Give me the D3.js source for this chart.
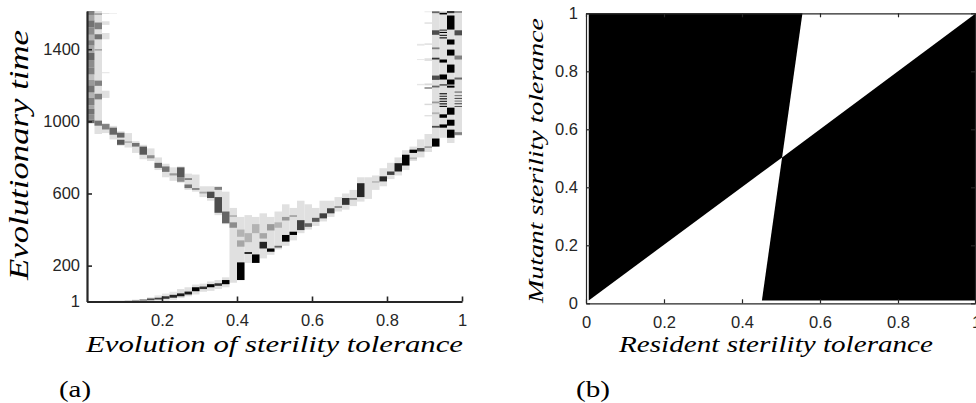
<!DOCTYPE html>
<html>
<head>
<meta charset="utf-8">
<script src="https://cdn.jsdelivr.net/npm/d3@7"></script>
<style>
  body { margin: 0; background: #fff; }
  svg { display: block; }
</style>
</head>
<body>
<div id="chart-area"></div>
<script>

  // ---- data: panel (a), histogram of sterility tolerance over evolutionary time
  const tolBinWidth = 0.02;
  const timeMax = 1612;
  const timeTicks = [1, 200, 600, 1000, 1400];
  const tolTicksA = [0.2, 0.4, 0.6, 0.8, 1];

  // [bin index, time from, time to, density 0..1]
  const histCells = [
    // branch drifting to 0
    [0, 990, 1010, 0.6], [0, 1010, 1040, 0.45], [0, 1040, 1070, 0.55], [0, 1070, 1090, 0.35],
    [0, 1090, 1130, 0.5], [0, 1130, 1160, 0.3], [0, 1160, 1200, 0.55], [0, 1200, 1230, 0.4],
    [0, 1230, 1260, 0.25], [0, 1260, 1300, 0.5], [0, 1300, 1340, 0.45], [0, 1340, 1380, 0.6],
    [0, 1380, 1420, 0.35], [0, 1420, 1450, 0.5], [0, 1450, 1480, 0.3], [0, 1480, 1520, 0.45],
    [0, 1520, 1560, 0.55], [0, 1560, 1590, 0.35], [0, 1590, 1612, 0.5],
    [1, 930, 1612, 0.12], [1, 1511, 1548, 0.5], [1, 1455, 1483, 0.55], [1, 1393, 1400, 0.4],
    [1, 1197, 1226, 0.5], [1, 1122, 1153, 0.5], [1, 976, 1004, 0.55], [1, 1590, 1600, 0.35],
    [2, 1535, 1555, 0.12], [2, 1455, 1490, 0.12], [2, 1130, 1170, 0.12], [2, 1596, 1601, 0.12],
    [2, 1267, 1272, 0.12], [2, 935, 990, 0.12], [2, 955, 985, 0.5],
    [3, 1596, 1600, 0.08], [3, 900, 975, 0.12], [3, 926, 965, 0.6],
    [4, 865, 945, 0.12], [4, 910, 937, 0.6], [4, 870, 898, 0.65],
    [5, 855, 935, 0.12], [5, 880, 890, 0.3],
    [6, 825, 890, 0.12], [6, 860, 880, 0.55],
    [7, 790, 870, 0.12], [7, 815, 860, 0.65],
    [8, 780, 850, 0.12], [8, 795, 812, 0.45],
    [9, 730, 800, 0.12], [9, 742, 770, 0.6],
    [10, 690, 765, 0.12], [10, 720, 750, 0.55],
    [11, 670, 745, 0.12], [11, 700, 712, 0.4],
    [12, 660, 750, 0.12], [12, 690, 745, 0.65], [12, 665, 690, 0.45],
    [13, 620, 710, 0.12], [13, 675, 685, 0.5], [13, 630, 650, 0.55],
    [14, 610, 705, 0.12], [14, 620, 630, 0.5],
    [15, 580, 640, 0.12], [15, 600, 610, 0.35],
    [16, 560, 640, 0.12], [16, 575, 610, 0.7],
    [17, 480, 640, 0.12], [17, 620, 636, 0.5], [17, 493, 580, 0.7],
    [18, 430, 610, 0.12], [18, 435, 500, 0.6],
    // early rise and branching zone
    [3, 1, 6, 0.15], [4, 1, 6, 0.15], [5, 1, 8, 0.2], [6, 3, 10, 0.35], [7, 5, 13, 0.5],
    [8, 1, 25, 0.1], [9, 5, 35, 0.1], [10, 5, 45, 0.1], [11, 10, 55, 0.1],
    [12, 20, 70, 0.12], [13, 30, 80, 0.12], [14, 40, 95, 0.12], [15, 55, 100, 0.12],
    [16, 60, 112, 0.12], [17, 70, 120, 0.12], [18, 80, 135, 0.12],
    [8, 8, 18, 0.7], [9, 12, 22, 0.75], [10, 16, 30, 0.8], [11, 22, 38, 0.85], [12, 30, 46, 0.9],
    [13, 40, 56, 0.9], [14, 58, 80, 1], [15, 70, 84, 0.8], [16, 80, 97, 1], [17, 88, 102, 0.8],
    [18, 97, 120, 1],
    [19, 105, 520, 0.12], [19, 410, 440, 0.45], [19, 470, 480, 0.3],
    [20, 120, 470, 0.12], [20, 305, 340, 0.35], [20, 360, 400, 0.3], [20, 120, 218, 1],
    [21, 215, 480, 0.12], [21, 330, 380, 0.3], [21, 265, 275, 0.9],
    [22, 215, 470, 0.12], [22, 380, 430, 0.3], [22, 215, 262, 1],
    [23, 240, 490, 0.12], [23, 350, 380, 0.35], [23, 295, 332, 0.85],
    [24, 260, 470, 0.12], [24, 395, 430, 0.4], [24, 277, 295, 1],
    [25, 290, 500, 0.12], [25, 410, 440, 0.3], [25, 300, 310, 0.6],
    [26, 310, 540, 0.12], [26, 333, 370, 1], [26, 450, 470, 0.4],
    [27, 340, 520, 0.12], [27, 370, 388, 1], [27, 470, 480, 0.35],
    // branch rising to 1
    [28, 380, 560, 0.12], [28, 397, 452, 0.75],
    [29, 400, 540, 0.12], [29, 415, 435, 0.6],
    [30, 420, 520, 0.12], [30, 443, 465, 0.65],
    [31, 445, 560, 0.12], [31, 462, 490, 0.75],
    [32, 470, 560, 0.12], [32, 490, 518, 0.75],
    [33, 500, 580, 0.12], [33, 520, 530, 0.45],
    [34, 510, 600, 0.12], [34, 537, 575, 0.8],
    [35, 530, 620, 0.12], [35, 565, 575, 0.5],
    [36, 555, 690, 0.12], [36, 580, 657, 0.85],
    [37, 570, 690, 0.12],
    [38, 620, 700, 0.12], [38, 660, 668, 0.3],
    [39, 640, 740, 0.12], [39, 667, 695, 0.85],
    [40, 680, 770, 0.12], [40, 703, 722, 0.75],
    [41, 700, 800, 0.12], [41, 722, 768, 0.9],
    [42, 730, 840, 0.12], [42, 755, 815, 1],
    [43, 780, 860, 0.12], [43, 825, 843, 1], [43, 790, 800, 0.3],
    [44, 800, 900, 0.12], [44, 833, 852, 0.7],
    [44, 1420, 1430, 0.1], [44, 1340, 1345, 0.1], [44, 1200, 1208, 0.1],
    [45, 830, 930, 0.12], [45, 855, 860, 0.6],
    [45, 1425, 1432, 0.15], [45, 1200, 1210, 0.15], [45, 1090, 1098, 0.15], [45, 1028, 1034, 0.15],
    [45, 1335, 1350, 0.12], [45, 1540, 1550, 0.1], [45, 1605, 1610, 0.1], [45, 1180, 1190, 0.4],
    [46, 860, 905, 1], [46, 905, 1612, 0.12], [46, 965, 975, 0.7], [46, 1188, 1198, 0.6],
    [46, 1230, 1254, 0.7], [46, 1343, 1353, 0.8], [46, 1400, 1410, 0.5], [46, 1480, 1505, 0.7],
    [46, 1600, 1610, 0.6], [46, 1100, 1110, 0.4], [46, 1040, 1050, 0.3],
    [47, 909, 1612, 0.12], [47, 1593, 1602, 1], [47, 1460, 1466, 1], [47, 1474, 1480, 0.9],
    [47, 1490, 1496, 1], [47, 1503, 1509, 0.8], [47, 1326, 1343, 1], [47, 1232, 1260, 1],
    [47, 1199, 1205, 0.9], [47, 1080, 1086, 1], [47, 1094, 1100, 1], [47, 1108, 1114, 0.9],
    [47, 1122, 1128, 1], [47, 1136, 1142, 0.8], [47, 1150, 1156, 1], [47, 1020, 1039, 1],
    [47, 965, 983, 1],
    [48, 880, 1612, 0.12], [48, 1509, 1587, 1], [48, 1426, 1454, 1], [48, 1365, 1398, 1],
    [48, 1270, 1315, 1], [48, 1204, 1232, 1], [48, 1187, 1198, 1], [48, 1037, 1076, 1],
    [48, 976, 1009, 1], [48, 909, 954, 1], [48, 1600, 1612, 0.8],
    [49, 920, 1612, 0.12], [49, 1603, 1610, 0.6], [49, 1477, 1505, 0.7], [49, 1343, 1365, 0.5],
    [49, 1232, 1243, 0.6], [49, 1080, 1085, 0.7], [49, 1095, 1100, 0.8], [49, 1110, 1115, 0.6],
    [49, 1125, 1130, 0.8], [49, 1140, 1145, 0.6], [49, 1160, 1165, 0.7], [49, 925, 940, 0.5],
  ];

  // ---- data: panel (b), pairwise invasibility plot
  const tolTicksB = [0, 0.2, 0.4, 0.6, 0.8, 1];
  const pipExtent = [[0.007, 0.01], [1, 1]];        // resident, mutant range of the grid
  const pipBoundary = [[0.45, 0], [0.555, 1]];      // non-trivial zero contour (resident at mutant 0 and 1)

  const width = 976;
  const height = 403;
  const inkColor = '#262626';
  const tickFont = '"Liberation Sans", Arial, sans-serif';
  const mathFont = '"Liberation Serif", "Times New Roman", serif';

  const svg = d3.select('#chart-area').append('svg')
    .attr('width', width)
    .attr('height', height);

  const grey = d3.scaleLinear().domain([0, 1]).range(['#ffffff', '#000000']);

  // ================= panel (a)
  const xA = d3.scaleLinear().domain([0, 1]).range([87, 462]);
  const yA = d3.scaleLinear().domain([1, timeMax]).range([301.5, 11]);

  const panelA = svg.append('g');

  panelA.append('g').selectAll('rect')
    .data(histCells.slice().sort((a, b) => a[3] - b[3]))
    .join('rect')
      .attr('x', d => xA(d[0] * tolBinWidth))
      .attr('width', xA(tolBinWidth) - xA(0))
      .attr('y', d => yA(d[2]))
      .attr('height', d => yA(d[1]) - yA(d[2]))
      .attr('fill', d => grey(d[3]));

  const axisAX = panelA.append('g')
    .attr('transform', `translate(0, ${yA(1)})`)
    .call(d3.axisBottom(xA).tickValues(tolTicksA).tickFormat(d3.format('')).tickSizeInner(-5).tickSizeOuter(0).tickPadding(13));

  const axisAY = panelA.append('g')
    .attr('transform', `translate(${xA(0)}, 0)`)
    .call(d3.axisLeft(yA).tickValues(timeTicks).tickFormat(d3.format('d')).tickSizeInner(-5).tickSizeOuter(0).tickPadding(7));

  [axisAX, axisAY].forEach(g => {
    g.select('.domain').attr('stroke', inkColor).attr('stroke-width', 2.2);
    g.selectAll('.tick line').attr('stroke', inkColor).attr('stroke-width', 1.6);
    g.selectAll('.tick text').attr('fill', inkColor).style('font-family', tickFont).style('font-size', '16.5px');
  });

  panelA.append('text')
    .text('Evolution of sterility tolerance')
      .attr('x', 86)
      .attr('y', 352)
      .attr('textLength', 377)
      .attr('lengthAdjust', 'spacingAndGlyphs')
      .style('font-family', mathFont)
      .style('font-style', 'italic')
      .style('font-size', '23px');

  panelA.append('text')
    .text('Evolutionary time')
      .attr('transform', 'translate(28, 155)rotate(-90)')
      .attr('text-anchor', 'middle')
      .attr('textLength', 250)
      .attr('lengthAdjust', 'spacingAndGlyphs')
      .style('font-family', mathFont)
      .style('font-style', 'italic')
      .style('font-size', '27px');

  panelA.append('text')
    .text('(a)')
      .attr('x', 59)
      .attr('y', 397)
      .attr('textLength', 32)
      .attr('lengthAdjust', 'spacingAndGlyphs')
      .style('font-family', mathFont)
      .style('font-size', '23px');

  // ================= panel (b)
  const xB = d3.scaleLinear().domain([0, 1]).range([586, 976]);
  const yB = d3.scaleLinear().domain([0, 1]).range([303.3, 13.3]);

  const panelB = svg.append('g');

  const [[r0, m0], [r1, m1]] = pipExtent;
  const bAt = m => pipBoundary[0][0] + (pipBoundary[1][0] - pipBoundary[0][0]) * (m - pipBoundary[0][1]) / (pipBoundary[1][1] - pipBoundary[0][1]);
  const slope = (pipBoundary[1][0] - pipBoundary[0][0]) / (pipBoundary[1][1] - pipBoundary[0][1]);
  const cross = (pipBoundary[0][0] - slope * pipBoundary[0][1]) / (1 - slope);

  const blackRegions = [
    [[r0, Math.max(r0, m0)], [r0, m1], [bAt(m1), m1], [cross, cross]],
    [[bAt(m0), m0], [r1, m0], [r1, m1], [cross, cross]],
  ];

  const line = d3.line().x(d => xB(d[0])).y(d => yB(d[1]));

  panelB.selectAll('path.region')
    .data(blackRegions)
    .join('path')
      .attr('class', 'region')
      .attr('d', d => line(d) + 'Z')
      .attr('fill', '#000');

  const axisBX = panelB.append('g')
    .attr('transform', `translate(0, ${yB(0)})`)
    .call(d3.axisBottom(xB).tickValues(tolTicksB).tickFormat(d3.format('')).tickSizeInner(-4).tickSizeOuter(0).tickPadding(13));
  const axisBY = panelB.append('g')
    .attr('transform', `translate(${xB(0)}, 0)`)
    .call(d3.axisLeft(yB).tickValues(tolTicksB).tickFormat(d3.format('')).tickSizeInner(-4).tickSizeOuter(0).tickPadding(8));
  const axisBTop = panelB.append('g')
    .attr('transform', `translate(0, ${yB(1)})`)
    .call(d3.axisTop(xB).tickValues(tolTicksB).tickFormat('').tickSizeInner(-4).tickSizeOuter(0));
  const axisBRight = panelB.append('g')
    .attr('transform', `translate(${xB(1) - 1}, 0)`)
    .call(d3.axisRight(yB).tickValues(tolTicksB).tickFormat('').tickSizeInner(-4).tickSizeOuter(0));

  [axisBX, axisBY, axisBTop, axisBRight].forEach(g => {
    g.select('.domain').attr('stroke', inkColor).attr('stroke-width', 1.2);
    g.selectAll('.tick line').attr('stroke', inkColor).attr('stroke-width', 1.2);
    g.selectAll('.tick text').attr('fill', inkColor).style('font-family', tickFont).style('font-size', '16.5px');
  });

  panelB.append('text')
    .text('Resident sterility tolerance')
      .attr('x', 619)
      .attr('y', 352)
      .attr('textLength', 314)
      .attr('lengthAdjust', 'spacingAndGlyphs')
      .style('font-family', mathFont)
      .style('font-style', 'italic')
      .style('font-size', '23px');

  panelB.append('text')
    .text('Mutant sterility tolerance')
      .attr('transform', 'translate(543, 160.5)rotate(-90)')
      .attr('text-anchor', 'middle')
      .attr('textLength', 285)
      .attr('lengthAdjust', 'spacingAndGlyphs')
      .style('font-family', mathFont)
      .style('font-style', 'italic')
      .style('font-size', '22px');

  panelB.append('text')
    .text('(b)')
      .attr('x', 576)
      .attr('y', 397)
      .attr('textLength', 34)
      .attr('lengthAdjust', 'spacingAndGlyphs')
      .style('font-family', mathFont)
      .style('font-size', '23px');

</script>
</body>
</html>
